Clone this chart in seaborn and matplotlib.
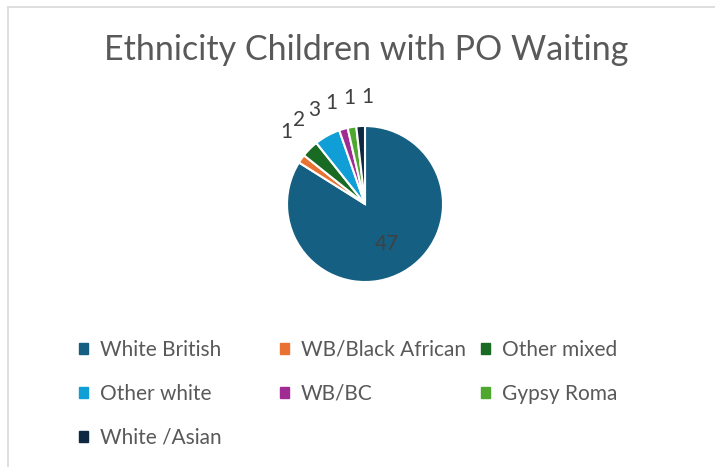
import matplotlib
matplotlib.use('Agg')
import matplotlib.pyplot as plt
import seaborn as sns
import numpy as np
from matplotlib.lines import Line2D

sns.set_style('white')
plt.rcParams['font.family'] = ['Lato', 'DejaVu Sans']

categories = ['White British', 'WB/Black African', 'Other mixed', 'Other white',
              'WB/BC', 'Gypsy Roma', 'White /Asian']
counts = [47, 1, 2, 3, 1, 1, 1]
colors = ['#156082', '#E97132', '#196B24', '#0F9ED5', '#A02B93', '#4EA72E', '#0E2841']

W, H = 715, 467
fig = plt.figure(figsize=(W / 100, H / 100), dpi=100)
ax = fig.add_axes([0.0, 0.0, 1.0, 1.0])

cx, cy, r = 365, H - 204, 78
wedges, _ = ax.pie(counts, colors=colors, startangle=90, counterclock=False,
                   explode=[0.03] + [0.08] * 6, radius=r, center=(cx, cy),
                   wedgeprops=dict(edgecolor='white', linewidth=1.5),
                   frame=True)
ax.set_xlim(0, W)
ax.set_ylim(0, H)
ax.set_aspect('equal')
ax.axis('off')

# value labels: big slice inside, small ones outside and spread apart
mids = [(w.theta1 + w.theta2) / 2 for w in wedges]
small = mids[1:]
centre = np.mean(small) - 3
gap = 9.8
n_small = len(small)
label_ang = [mids[0]] + [centre + (n_small - 1) / 2 * gap - k * gap
                         for k in range(n_small)]
for i, (a, n) in enumerate(zip(label_ang, counts)):
    a = np.deg2rad(a)
    d = 0.58 * r if i == 0 else 1.37 * r
    ax.text(cx + d * np.cos(a), cy + d * np.sin(a), str(n),
            ha='center', va='center', fontsize=15, color='#404040')

ax.text(366, H - 50, 'Ethnicity Children with PO Waiting', ha='center',
        va='center', fontsize=24.5, color='#595959')

# legend: 3 fixed-width columns, filled row by row
col_x = [79, 280, 481]
for c in range(3):
    idx = list(range(c, len(categories), 3))
    handles = [plt.Rectangle((0, 0), 1, 1, color=colors[i]) for i in idx]
    leg = fig.legend(handles, [categories[i] for i in idx], loc='upper left',
                     bbox_to_anchor=(col_x[c] / W, 1 - 340 / H),
                     frameon=False, fontsize=15, handlelength=0.45,
                     handleheight=0.45, handletextpad=0.55,
                     labelspacing=1.15, borderpad=0, borderaxespad=0)
    for t in leg.get_texts():
        t.set_color('#595959')

fig.add_artist(Line2D([8 / W, 8 / W], [0, 1 - 7 / H],
                      color='#d9d9d9', lw=1.2, transform=fig.transFigure))
fig.add_artist(Line2D([8 / W, 1], [1 - 7 / H, 1 - 7 / H],
                      color='#d9d9d9', lw=1.2, transform=fig.transFigure))

fig.savefig('out.png', dpi=100)
